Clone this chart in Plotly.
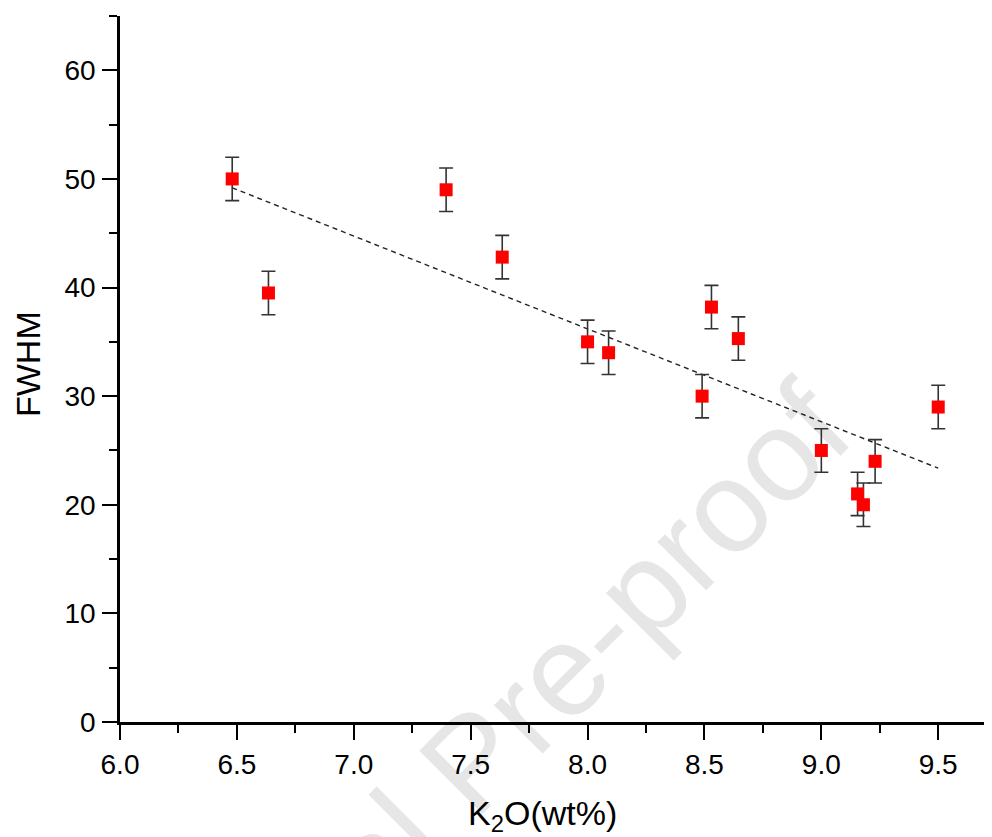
import numpy as np
import plotly.graph_objects as go

# Data
k2o = [6.48, 6.635, 7.395, 7.635, 8.00, 8.09, 8.49, 8.53, 8.645, 9.00, 9.155, 9.18, 9.23, 9.50]
fwhm = [50.0, 39.5, 49.0, 42.8, 35.0, 34.0, 30.0, 38.2, 35.3, 25.0, 21.0, 20.0, 24.0, 29.0]
fwhm_err = [2, 2, 2, 2, 2, 2, 2, 2, 2, 2, 2, 2, 2, 2]

x_ticks = [6.0, 6.5, 7.0, 7.5, 8.0, 8.5, 9.0, 9.5]
y_ticks = [0, 10, 20, 30, 40, 50, 60]

# linear fit (trend line)
slope, intercept = np.polyfit(k2o, fwhm, 1)
fit_x = [min(k2o), max(k2o)]
fit_y = [slope * v + intercept for v in fit_x]

FONT = "Liberation Sans, Arial, sans-serif"

fig = go.Figure()
fig.add_trace(go.Scatter(
    x=fit_x, y=fit_y, mode="lines",
    line=dict(color="#222222", width=1.4, dash="5px,4px"),
    hoverinfo="skip", showlegend=False,
))
fig.add_trace(go.Scatter(
    x=k2o, y=fwhm, mode="markers",
    marker=dict(symbol="square", size=13, color="#ff0000", line=dict(width=0)),
    error_y=dict(type="data", array=fwhm_err, visible=True,
                 color="#333333", thickness=1.6, width=7),
    showlegend=False,
))

axis_common = dict(
    showgrid=False, zeroline=False, showline=True, linecolor="black",
    linewidth=2.5, ticks="outside", ticklen=15, tickwidth=2.2, tickcolor="black",
    tickfont=dict(family=FONT, size=28, color="black"),
    mirror=False, automargin=False,
)

fig.update_xaxes(
    range=[6.0, 9.73], tickvals=x_ticks, ticktext=[f"{v:.1f}" for v in x_ticks],
    minor=dict(ticks="outside", ticklen=8, tickwidth=2.2, tickcolor="black", dtick=0.25, tick0=6.0),
    ticklabelstandoff=1,
    **axis_common,
)
fig.update_yaxes(
    range=[0, 65], tickvals=y_ticks, ticktext=[str(v) for v in y_ticks],
    minor=dict(ticks="outside", ticklen=8, tickwidth=2.2, tickcolor="black", dtick=5, tick0=0),
    ticklabelstandoff=1,
    **axis_common,
)

fig.update_layout(
    width=992, height=837,
    margin=dict(l=112, r=8, t=8, b=123),
    paper_bgcolor="white", plot_bgcolor="rgba(0,0,0,0)",
    font=dict(family=FONT, color="black"),
    showlegend=False,
    shapes=[dict(
        type="rect", xref="paper", yref="paper", layer="below",
        x0=0.392, x1=0.394, y0=-0.045, y1=-0.043,
        line=dict(width=0), fillcolor="rgba(0,0,0,0)",
        label=dict(text="Journal Pre-proof", textangle=-45,
                   textposition="middle center",
                   font=dict(family=FONT, size=130, color="#e6e6e6")),
    )],
    annotations=[
        dict(text="K<sub>2</sub>O(wt%)", xref="paper", yref="paper",
             x=(542 - 120) / 872, y=(722 - 815) / 706, xanchor="center", yanchor="middle",
             showarrow=False, font=dict(family=FONT, size=34, color="black")),
        dict(text="FWHM", xref="paper", yref="paper", textangle=-90,
             x=(28 - 120) / 872, y=(722 - 364) / 706, xanchor="center", yanchor="middle",
             showarrow=False, font=dict(family=FONT, size=34, color="black")),
    ],
)

fig.write_html("out.html")
